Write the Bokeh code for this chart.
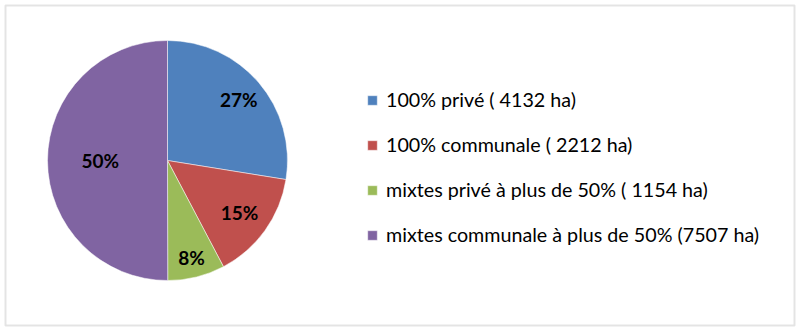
import math
from bokeh.plotting import figure
from bokeh.models import ColumnDataSource, Legend, LegendItem, BoxAnnotation, Range1d
from bokeh.core.properties import value
from bokeh.embed import file_html
from bokeh.resources import INLINE

categories = ["100% privé ( 4132 ha)", "100% communale ( 2212 ha)",
              "mixtes privé à plus de 50% ( 1154 ha)", "mixtes communale à plus de 50% (7507 ha)"]
hectares = [4132, 2212, 1154, 7507]
pct_labels = ["27%", "15%", "8%", "50%"]
colors = ["#4F81BD", "#C0504D", "#9BBB59", "#8064A2"]

W, H = 800, 330
CX, CY, R = 167, 170, 120
label_r = [0.78, 0.74, 0.83, 0.56]

total = sum(hectares)
starts, ends, lx, ly = [], [], [], []
cum = 0.0
for i, v in enumerate(hectares):
    a0 = cum / total * 2 * math.pi
    cum += v
    a1 = cum / total * 2 * math.pi
    starts.append(math.pi / 2 - a1)
    ends.append(math.pi / 2 - a0)
    mid = (a0 + a1) / 2
    lx.append(CX + label_r[i] * R * math.sin(mid))
    ly.append(CY + label_r[i] * R * math.cos(mid))

src = ColumnDataSource(dict(start=starts, end=ends, color=colors, label=categories,
                            pct=pct_labels, lx=lx, ly=ly))

p = figure(width=W, height=H, output_backend="svg", toolbar_location=None,
           x_range=Range1d(0, W), y_range=Range1d(0, H), min_border=0,
           background_fill_color="white", border_fill_color="white")
p.axis.visible = False
p.grid.visible = False
p.outline_line_color = None

p.add_layout(BoxAnnotation(left=5, right=794, bottom=5, top=325, fill_alpha=0,
                           line_color="#A6A6A6", line_width=2))

r = p.wedge(x=CX, y=CY, radius=R, start_angle="start", end_angle="end",
            fill_color="color", line_color="white", line_width=0.5, source=src)

p.text(x="lx", y="ly", text="pct", source=src, text_align="center", text_baseline="middle",
       text_font=value("Lato"), text_font_style="bold", text_font_size="19px",
       text_color="#000000")

items = [LegendItem(label=categories[i], renderers=[r], index=i) for i in range(len(categories))]
legend = Legend(items=items, location=(366, 84), orientation="vertical",
                glyph_width=12, glyph_height=12, label_height=20, spacing=22,
                label_standoff=8, padding=0, margin=0,
                label_text_font="Lato", label_text_font_size="19.7px", label_text_color="#000000",
                border_line_color=None, background_fill_alpha=0)
p.add_layout(legend, "center")

open("out.html", "w").write(file_html(p, INLINE))
